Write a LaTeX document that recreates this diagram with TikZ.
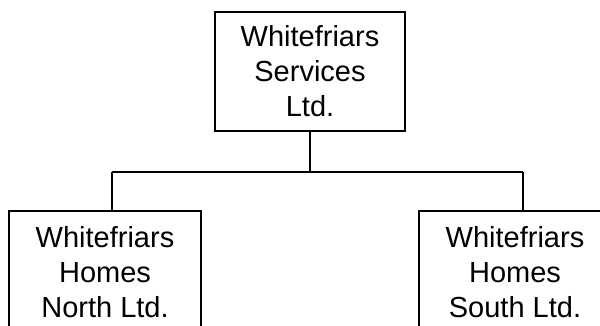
\documentclass[tikz,border=0pt]{standalone}
\usepackage{fontspec}
\setmainfont{Liberation Sans}
\begin{document}
\begin{tikzpicture}[x=1pt,y=-1pt,
  box/.style={draw=black,line width=1.6pt,rectangle,inner sep=0pt,align=center,
    font=\fontsize{29}{35}\selectfont,text=black},
  wire/.style={draw=black,line width=1.6pt}]
\useasboundingbox (0,0) rectangle (600,326);
\clip (0,0) rectangle (600,326);
\node[box,minimum width=190pt,minimum height=119pt] (top) at (310,71.5) {Whitefriars\\Services\\Ltd.};
\node[box,minimum width=192pt,minimum height=122pt] (left) at (105,272) {Whitefriars\\Homes\\North Ltd.};
\node[box,minimum width=192pt,minimum height=122pt] (right) at (515,272) {Whitefriars\\Homes\\South Ltd.};
\coordinate (j) at (310,172);
\coordinate (jl) at (112,172);
\coordinate (jr) at (523,172);
\draw[wire] (top.south) -- (j);
\draw[wire] (jl) -- (jr);
\draw[wire] (jl) -- (jl |- left.north);
\draw[wire] (jr) -- (jr |- right.north);
\end{tikzpicture}
\end{document}
